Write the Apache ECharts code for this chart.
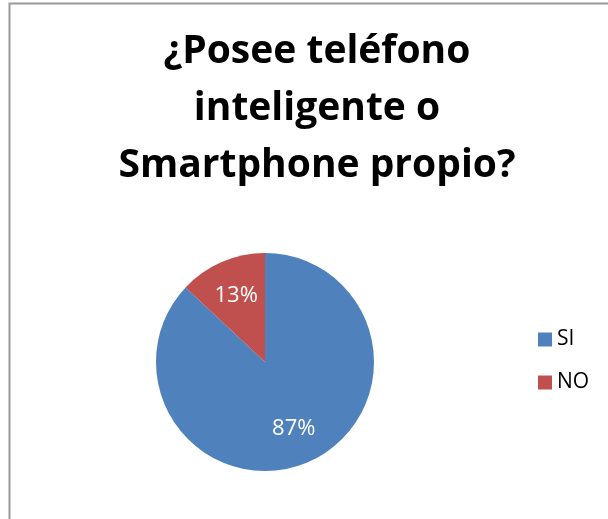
<!DOCTYPE html>
<html>
<head>
<meta charset="utf-8">
<script src="https://cdn.jsdelivr.net/npm/echarts@6/dist/echarts.min.js"></script>
<style>
  html, body { margin: 0; padding: 0; background: #fff; }
  #chart { width: 608px; height: 519px; }
</style>
</head>
<body>
<div id="chart"></div>
<script>
// data
var titleText = '¿Posee teléfono\ninteligente o\nSmartphone propio?';
var categories = ['SI', 'NO'];
var values = [87, 13];
var colors = ['#4F81BD', '#C0504D'];

var pieData = categories.map(function (name, i) {
  return { name: name, value: values[i], itemStyle: { color: colors[i] } };
});

var chart = echarts.init(document.getElementById('chart'));
var font = '"Open Sans", Lato, sans-serif';

chart.setOption({
  backgroundColor: '#fff',
  animation: false,
  title: {
    text: titleText,
    left: 312,
    top: 18,
    textAlign: 'center',
    textStyle: {
      fontFamily: font,
      fontWeight: 'bold',
      fontSize: 39,
      lineHeight: 57,
      color: '#000'
    }
  },
  legend: {
    orient: 'vertical',
    left: 533,
    top: 324,
    itemWidth: 14,
    itemHeight: 14,
    itemGap: 22,
    icon: 'rect',
    data: categories,
    textStyle: { fontFamily: font, fontSize: 21, color: '#000' }
  },
  graphic: [{
    type: 'rect',
    shape: { x: 9.5, y: 3.5, width: 700, height: 600 },
    style: { fill: 'none', stroke: '#999', lineWidth: 2 },
    silent: true
  }],
  series: [{
    type: 'pie',
    center: [265, 362],
    radius: [0, 109],
    startAngle: 90,
    clockwise: true,
    data: pieData,
    label: { show: false },
    labelLine: { show: false },
    emphasis: { disabled: true }
  }, {
    // label layer only, places the percentages further out like Excel does
    type: 'pie',
    center: [265, 362],
    radius: [30, 109],
    startAngle: 90,
    clockwise: true,
    silent: true,
    data: categories.map(function (name, i) {
      return { name: name, value: values[i] };
    }),
    itemStyle: { color: 'rgba(0,0,0,0)' },
    label: {
      show: true,
      position: 'inside',
      formatter: '{c}%',
      color: '#fff',
      fontFamily: font,
      fontSize: 22
    },
    labelLine: { show: false },
    emphasis: { disabled: true }
  }]
});
</script>
</body>
</html>
